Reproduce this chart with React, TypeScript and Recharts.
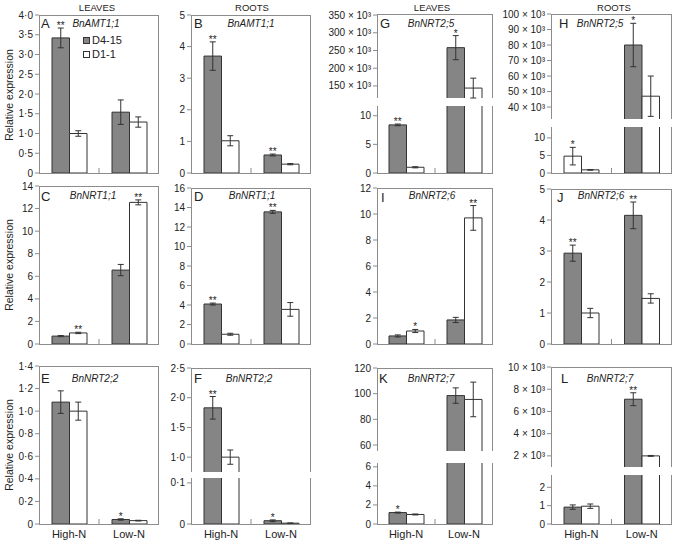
import React from "react";
import { BarChart, Bar, XAxis, YAxis, ErrorBar } from "recharts";

const FONT = "'Liberation Sans', Arial, Helvetica, sans-serif";
const GRAY = "#858585";
const EDGE = "#333333";
const FRAME = "#8c8c8c";
const INK = "#222222";

const GROUPS = ["High-N", "Low-N"];

// A – BnAMT1;1, leaves
const A_D415 = [3.42, 1.54];
const A_D415_ERR = [0.25, 0.31];
const A_D11 = [1.0, 1.29];
const A_D11_ERR = [0.07, 0.13];
const A_S415 = ["**", ""];
const A_S11 = ["", ""];

// B – BnAMT1;1, roots
const B_D415 = [3.7, 0.57];
const B_D415_ERR = [0.45, 0.03];
const B_D11 = [1.02, 0.28];
const B_D11_ERR = [0.16, 0.02];
const B_S415 = ["**", "**"];
const B_S11 = ["", ""];

// C – BnNRT1;1, leaves
const C_D415 = [0.7, 6.55];
const C_D415_ERR = [0.05, 0.5];
const C_D11 = [0.98, 12.55];
const C_D11_ERR = [0.06, 0.22];
const C_S415 = ["", ""];
const C_S11 = ["**", "**"];

// D – BnNRT1;1, roots
const D_D415 = [4.1, 13.55];
const D_D415_ERR = [0.1, 0.15];
const D_D11 = [1.0, 3.55];
const D_D11_ERR = [0.1, 0.7];
const D_S415 = ["**", "**"];
const D_S11 = ["", ""];

// E – BnNRT2;2, leaves
const E_D415 = [1.08, 0.04];
const E_D415_ERR = [0.1, 0.006];
const E_D11 = [1.0, 0.03];
const E_D11_ERR = [0.08, 0.003];
const E_S415 = ["", "*"];
const E_S11 = ["", ""];

// F – BnNRT2;2, roots
const F_D415 = [1.83, 0.008];
const F_D415_ERR = [0.19, 0.002];
const F_D11 = [1.0, 0.002];
const F_D11_ERR = [0.12, 0.0005];
const F_S415 = ["**", "*"];
const F_S11 = ["", ""];

// G – BnNRT2;5, leaves
const G_D415 = [8.4, 258000];
const G_D415_ERR = [0.15, 34000];
const G_D11 = [1.0, 144000];
const G_D11_ERR = [0.1, 28000];
const G_S415 = ["**", "*"];
const G_S11 = ["", ""];

// H – BnNRT2;5, roots
const H_D415 = [4.8, 80000];
const H_D415_ERR = [2.5, 14000];
const H_D11 = [0.9, 47000];
const H_D11_ERR = [0.1, 13000];
const H_S415 = ["*", "*"];
const H_S11 = ["", ""];

// I – BnNRT2;6, leaves
const I_D415 = [0.62, 1.85];
const I_D415_ERR = [0.08, 0.2];
const I_D11 = [1.0, 9.7];
const I_D11_ERR = [0.12, 0.95];
const I_S415 = ["", ""];
const I_S11 = ["*", "**"];

// J – BnNRT2;6, roots
const J_D415 = [2.93, 4.15];
const J_D415_ERR = [0.26, 0.43];
const J_D11 = [1.0, 1.47];
const J_D11_ERR = [0.15, 0.15];
const J_S415 = ["**", "**"];
const J_S11 = ["", ""];

// K – BnNRT2;7, leaves
const K_D415 = [1.2, 98.5];
const K_D415_ERR = [0.05, 6];
const K_D11 = [1.0, 95.5];
const K_D11_ERR = [0.05, 13.5];
const K_S415 = ["*", ""];
const K_S11 = ["", ""];

// L – BnNRT2;7, roots
const L_D415 = [0.92, 7100];
const L_D415_ERR = [0.12, 580];
const L_D11 = [0.97, 2000];
const L_D11_ERR = [0.12, 40];
const L_S415 = ["", "**"];
const L_S11 = ["", ""];

// tick values
const T_A = [0, 0.5, 1, 1.5, 2, 2.5, 3, 3.5, 4];
const T_B = [0, 1, 2, 3, 4, 5];
const T_C = [0, 2, 4, 6, 8, 10, 12, 14];
const T_D = [0, 2, 4, 6, 8, 10, 12, 14, 16];
const T_E = [0, 0.2, 0.4, 0.6, 0.8, 1, 1.2, 1.4];
const T_F_TOP = [1, 1.5, 2, 2.5];
const T_F_LOW = [0, 0.1];
const T_G_TOP = [150000, 200000, 250000, 300000, 350000];
const T_G_LOW = [0, 5, 10];
const T_H_TOP = [40000, 50000, 60000, 70000, 80000, 90000, 100000];
const T_H_LOW = [0, 5, 10];
const T_I = [0, 2, 4, 6, 8, 10, 12];
const T_J = [0, 1, 2, 3, 4, 5];
const T_K_TOP = [60, 80, 100, 120];
const T_K_LOW = [0, 2, 4, 6];
const T_L_TOP = [2000, 4000, 6000, 8000, 10000];
const T_L_LOW = [0, 1, 2];

const dot = (d: number) => (v: number) => (v === 0 ? "0" : v.toFixed(d).replace(".", "·"));
const int = (v: number) => String(v);
const kilo = (v: number) => `${v / 1000} × 10³`;

type Seg = { min: number; max: number; top: number; bottom: number; ticks: number[]; fmt: (v: number) => string };
type Panel = {
  left: number;
  right: number;
  labels: boolean;
  hollow: number[];
  d415: number[];
  d415Err: number[];
  d11: number[];
  d11Err: number[];
  s415: string[];
  s11: string[];
  segs: Seg[];
};

const COL = [
  [39, 159],
  [191, 311],
  [377, 493],
  [551, 672],
];

const PANELS: Panel[] = [
  {
    left: COL[0][0], right: COL[0][1], labels: false, hollow: [],
    d415: A_D415, d415Err: A_D415_ERR, d11: A_D11, d11Err: A_D11_ERR, s415: A_S415, s11: A_S11,
    segs: [{ min: 0, max: 4, top: 15, bottom: 173, ticks: T_A, fmt: dot(1) }],
  },
  {
    left: COL[1][0], right: COL[1][1], labels: false, hollow: [],
    d415: B_D415, d415Err: B_D415_ERR, d11: B_D11, d11Err: B_D11_ERR, s415: B_S415, s11: B_S11,
    segs: [{ min: 0, max: 5, top: 15, bottom: 173, ticks: T_B, fmt: int }],
  },
  {
    left: COL[2][0], right: COL[2][1], labels: false, hollow: [],
    d415: G_D415, d415Err: G_D415_ERR, d11: G_D11, d11Err: G_D11_ERR, s415: G_S415, s11: G_S11,
    segs: [
      { min: 116000, max: 353000, top: 14, bottom: 98, ticks: T_G_TOP, fmt: kilo },
      { min: 0, max: 11.7, top: 106, bottom: 173, ticks: T_G_LOW, fmt: int },
    ],
  },
  {
    left: COL[3][0], right: COL[3][1], labels: false, hollow: [0],
    d415: H_D415, d415Err: H_D415_ERR, d11: H_D11, d11Err: H_D11_ERR, s415: H_S415, s11: H_S11,
    segs: [
      { min: 32300, max: 100000, top: 14, bottom: 119, ticks: T_H_TOP, fmt: kilo },
      { min: 0, max: 13.1, top: 127, bottom: 173, ticks: T_H_LOW, fmt: int },
    ],
  },
  {
    left: COL[0][0], right: COL[0][1], labels: false, hollow: [],
    d415: C_D415, d415Err: C_D415_ERR, d11: C_D11, d11Err: C_D11_ERR, s415: C_S415, s11: C_S11,
    segs: [{ min: 0, max: 14, top: 186, bottom: 344, ticks: T_C, fmt: int }],
  },
  {
    left: COL[1][0], right: COL[1][1], labels: false, hollow: [],
    d415: D_D415, d415Err: D_D415_ERR, d11: D_D11, d11Err: D_D11_ERR, s415: D_S415, s11: D_S11,
    segs: [{ min: 0, max: 16, top: 188, bottom: 344, ticks: T_D, fmt: int }],
  },
  {
    left: COL[2][0], right: COL[2][1], labels: false, hollow: [],
    d415: I_D415, d415Err: I_D415_ERR, d11: I_D11, d11Err: I_D11_ERR, s415: I_S415, s11: I_S11,
    segs: [{ min: 0, max: 12, top: 188, bottom: 344, ticks: T_I, fmt: int }],
  },
  {
    left: COL[3][0], right: COL[3][1], labels: false, hollow: [],
    d415: J_D415, d415Err: J_D415_ERR, d11: J_D11, d11Err: J_D11_ERR, s415: J_S415, s11: J_S11,
    segs: [{ min: 0, max: 5, top: 189, bottom: 344, ticks: T_J, fmt: int }],
  },
  {
    left: COL[0][0], right: COL[0][1], labels: true, hollow: [],
    d415: E_D415, d415Err: E_D415_ERR, d11: E_D11, d11Err: E_D11_ERR, s415: E_S415, s11: E_S11,
    segs: [{ min: 0, max: 1.4, top: 366, bottom: 524, ticks: T_E, fmt: dot(1) }],
  },
  {
    left: COL[1][0], right: COL[1][1], labels: true, hollow: [],
    d415: F_D415, d415Err: F_D415_ERR, d11: F_D11, d11Err: F_D11_ERR, s415: F_S415, s11: F_S11,
    segs: [
      { min: 0.75, max: 2.5, top: 368, bottom: 472, ticks: T_F_TOP, fmt: dot(1) },
      { min: 0, max: 0.112, top: 478, bottom: 524, ticks: T_F_LOW, fmt: dot(1) },
    ],
  },
  {
    left: COL[2][0], right: COL[2][1], labels: true, hollow: [],
    d415: K_D415, d415Err: K_D415_ERR, d11: K_D11, d11Err: K_D11_ERR, s415: K_S415, s11: K_S11,
    segs: [
      { min: 55.3, max: 120, top: 368, bottom: 451, ticks: T_K_TOP, fmt: int },
      { min: 0, max: 6.4, top: 463, bottom: 524, ticks: T_K_LOW, fmt: int },
    ],
  },
  {
    left: COL[3][0], right: COL[3][1], labels: true, hollow: [],
    d415: L_D415, d415Err: L_D415_ERR, d11: L_D11, d11Err: L_D11_ERR, s415: L_S415, s11: L_S11,
    segs: [
      { min: 1000, max: 10000, top: 367, bottom: 467, ticks: T_L_TOP, fmt: kilo },
      { min: 0, max: 2.67, top: 475, bottom: 524, ticks: T_L_LOW, fmt: int },
    ],
  },
];

const ML = 64;
const MR = 2;
const BAR = 17.5;

// bar outline is left open where the bar runs through an axis break
function makeShape(series: "d415" | "d11", seg: Seg, lowest: boolean, ppu: number, hollow: number[]) {
  return (props: any) => {
    const { x, y, width, height, index } = props;
    const row = props.payload ?? {};
    const v: number = series === "d415" ? row.d415 : row.d11;
    if (v == null || v < seg.min) return <g />;
    const fill = series === "d415" && !hollow.includes(index) ? GRAY : "#ffffff";
    const star: string = series === "d415" ? row.s415 : row.s11;
    const err: number = series === "d415" ? row.d415Err : row.d11Err;
    const y0 = Math.min(y, y + height);
    const y1 = Math.max(y, y + height);
    const over = v > seg.max;
    let d = `M${x},${y0}V${y1}M${x + width},${y0}V${y1}`;
    if (!over) d += `M${x},${y0}H${x + width}`;
    if (lowest) d += `M${x},${y1}H${x + width}`;
    return (
      <g>
        <rect x={x} y={y0} width={width} height={y1 - y0} fill={fill} stroke="none" />
        <path d={d} stroke={EDGE} strokeWidth={1} fill="none" />
        {star && !over ? (
          <text
            x={x + width / 2}
            y={y0 - (err || 0) * ppu + 1}
            textAnchor="middle"
            fontSize={10}
            fill={INK}
            stroke="none"
            fontFamily={FONT}
          >
            {star}
          </text>
        ) : null}
      </g>
    );
  };
}

function PanelView({ p }: { p: Panel }) {
  const data = GROUPS.map((g, i) => ({
    group: g,
    d415: p.d415[i],
    d415Err: p.d415Err[i],
    d11: p.d11[i],
    d11Err: p.d11Err[i],
    s415: p.s415[i],
    s11: p.s11[i],
  }));
  const plotW = p.right - p.left;
  const band = plotW / GROUPS.length;
  const n = p.segs.length;
  return (
    <>
      {p.segs.map((s, k) => {
        const first = k === 0;
        const last = k === n - 1;
        const mt = first ? 8 : 6;
        const mb = last ? 0 : 6;
        const xh = last ? (p.labels ? 20 : 8) : 0;
        const h = s.bottom - s.top;
        const width = ML + plotW + MR;
        const height = mt + h + mb + xh;
        const ppu = h / (s.max - s.min);
        const axisY = mt + h;
        return (
          <div
            key={k}
            style={{ position: "absolute", left: p.left - ML, top: s.top - mt, width, height, overflow: "hidden" }}
          >
            <BarChart
              width={width}
              height={height}
              data={data}
              margin={{ top: mt, right: MR, bottom: mb, left: 0 }}
              barGap={0}
              barSize={BAR}
            >
              <XAxis
                dataKey="group"
                hide={!last}
                height={xh}
                axisLine={false}
                tickLine={false}
                interval={0}
                tick={(tp: any) => (
                  <g>
                    {tp.index === 0 ? (
                      <line x1={tp.x + band / 2} x2={tp.x + band / 2} y1={axisY} y2={axisY - 5} stroke={FRAME} />
                    ) : null}
                    {p.labels ? (
                      <text x={tp.x} y={axisY + 14} textAnchor="middle" fontSize={11} fill={INK} fontFamily={FONT}>
                        {tp.payload.value}
                      </text>
                    ) : null}
                  </g>
                )}
              />
              <YAxis
                width={ML}
                type="number"
                domain={[s.min, s.max]}
                allowDataOverflow
                ticks={s.ticks}
                interval={0}
                tickFormatter={s.fmt}
                axisLine={false}
                tickLine={{ stroke: FRAME }}
                tickSize={4}
                tickMargin={2}
                tick={{ fontSize: 10, fill: INK, fontFamily: FONT }}
              />
              <Bar dataKey="d415" isAnimationActive={false} shape={makeShape("d415", s, last, ppu, p.hollow)}>
                <ErrorBar dataKey="d415Err" width={3} stroke={EDGE} strokeWidth={1} />
              </Bar>
              <Bar dataKey="d11" isAnimationActive={false} shape={makeShape("d11", s, last, ppu, p.hollow)}>
                <ErrorBar dataKey="d11Err" width={3} stroke={EDGE} strokeWidth={1} />
              </Bar>
            </BarChart>
            <div
              style={{
                position: "absolute",
                left: ML,
                top: mt - (first ? 0.5 : 0),
                width: plotW,
                height: h + (first ? 0.5 : 0) + (last ? 0.5 : 0),
                boxSizing: "border-box",
                borderLeft: `1px solid ${FRAME}`,
                borderRight: `1px solid ${FRAME}`,
                borderTop: first ? `1px solid ${FRAME}` : "none",
                borderBottom: last ? `1px solid ${FRAME}` : "none",
                pointerEvents: "none",
              }}
            />
          </div>
        );
      })}
    </>
  );
}

const HEADS = [
  { text: "LEAVES", x: 97 },
  { text: "ROOTS", x: 252 },
  { text: "LEAVES", x: 432 },
  { text: "ROOTS", x: 614 },
];
const ROW_MID = [95, 265, 445];
const LETTERS = [
  { t: "A", x: 41, y: 28 }, { t: "B", x: 194, y: 28 }, { t: "G", x: 380, y: 28 }, { t: "H", x: 559, y: 28 },
  { t: "C", x: 41, y: 201 }, { t: "D", x: 194, y: 201 }, { t: "I", x: 381, y: 202 }, { t: "J", x: 557, y: 202 },
  { t: "E", x: 41, y: 383 }, { t: "F", x: 194, y: 383 }, { t: "K", x: 379, y: 383 }, { t: "L", x: 561, y: 383 },
];
const GENES = [
  { t: "BnAMT1;1", x: 96, y: 27 }, { t: "BnAMT1;1", x: 251, y: 27 }, { t: "BnNRT2;5", x: 431, y: 27 }, { t: "BnNRT2;5", x: 600, y: 27 },
  { t: "BnNRT1;1", x: 93, y: 199 }, { t: "BnNRT1;1", x: 252, y: 199 }, { t: "BnNRT2;6", x: 432, y: 199 }, { t: "BnNRT2;6", x: 601, y: 199 },
  { t: "BnNRT2;2", x: 95, y: 382 }, { t: "BnNRT2;2", x: 249, y: 382 }, { t: "BnNRT2;7", x: 431, y: 382 }, { t: "BnNRT2;7", x: 610, y: 382 },
];

export default function App() {
  return (
    <div style={{ position: "absolute", left: 0, top: 0, width: 674, height: 541, background: "#fff", fontFamily: FONT }}>
      {PANELS.map((p, i) => (
        <PanelView key={i} p={p} />
      ))}
      <svg width={674} height={541} style={{ position: "absolute", left: 0, top: 0, pointerEvents: "none" }}>
        {HEADS.map((h, i) => (
          <text key={i} x={h.x} y={11} textAnchor="middle" fontSize={9.5} fill={INK} fontFamily={FONT}>
            {h.text}
          </text>
        ))}
        {ROW_MID.map((y, i) => (
          <text
            key={i}
            transform={`translate(13,${y}) rotate(-90)`}
            textAnchor="middle"
            fontSize={10.5}
            fill={INK}
            fontFamily={FONT}
          >
            Relative expression
          </text>
        ))}
        {LETTERS.map((l, i) => (
          <text key={i} x={l.x} y={l.y} fontSize={13} fill={INK} fontFamily={FONT}>
            {l.t}
          </text>
        ))}
        {GENES.map((g, i) => (
          <text key={i} x={g.x} y={g.y} textAnchor="middle" fontSize={10} fontStyle="italic" fill={INK} fontFamily={FONT}>
            {g.t}
          </text>
        ))}
        <rect x={83.5} y={37.5} width={6} height={6} fill={GRAY} stroke={EDGE} />
        <text x={92} y={44} fontSize={11} fill={INK} fontFamily={FONT}>D4-15</text>
        <rect x={83.5} y={51.5} width={6} height={6} fill="#ffffff" stroke={EDGE} />
        <text x={92} y={58} fontSize={11} fill={INK} fontFamily={FONT}>D1-1</text>
      </svg>
    </div>
  );
}
